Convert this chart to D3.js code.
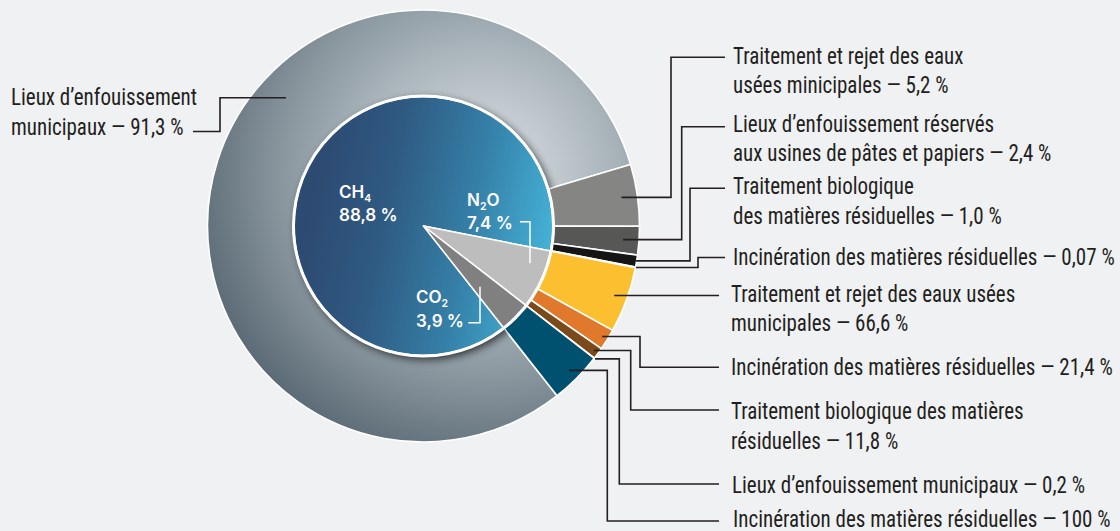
<!DOCTYPE html>
<html><head><meta charset="utf-8">
<script src="https://cdn.jsdelivr.net/npm/d3@7"></script>
<style>
html,body{margin:0;padding:0;background:#f0f1f3;}
svg{display:block;}
</style></head><body>
<svg id="chart" width="1120" height="531"></svg>
<script>
// ---------- DATA ----------
const gasKeys = ["CH4", "N2O", "CO2"];
const gasBase = ["CH", "N", "CO"];
const gasSub = ["4", "2", "2"];
const gasTail = ["", "O", ""];
const gasValues = [88.8, 7.4, 3.9];
const gasValueLabels = ["88,8 %", "7,4 %", "3,9 %"];

const sourceGas = ["CH4", "CH4", "CH4", "CH4", "CH4", "N2O", "N2O", "N2O", "N2O", "CO2"];
const sourceValues = [91.3, 5.2, 2.4, 1.0, 0.07, 66.6, 21.4, 11.8, 0.2, 100];
const sourceLabelLines = [
  ["Lieux d’enfouissement", "municipaux — 91,3 %"],
  ["Traitement et rejet des eaux", "usées minicipales — 5,2 %"],
  ["Lieux d’enfouissement réservés", "aux usines de pâtes et papiers — 2,4 %"],
  ["Traitement biologique", "des matières résiduelles — 1,0 %"],
  ["Incinération des matières résiduelles — 0,07 %"],
  ["Traitement et rejet des eaux usées", "municipales — 66,6 %"],
  ["Incinération des matières résiduelles — 21,4 %"],
  ["Traitement biologique des matières", "résiduelles — 11,8 %"],
  ["Lieux d’enfouissement municipaux — 0,2 %"],
  ["Incinération des matières résiduelles — 100 %"]
];

// ---------- STYLE / LAYOUT ----------
const W = 1120, H = 531;
const cx = 423.5, cy = 226;
const rPie = 129.5, rRingIn = 130, rRingOut = 216;
const startDeg = 141.8;
const gasFills = ["url(#blueGrad)", "#bdbdbd", "#808080"];
const sourceFills = ["url(#ringGrad)", "#858583", "#575755", "#151515", "#d8d8d8",
                     "#fbbf2f", "#e0792b", "#7b4a1b", "#5a3a1a", "#00506f"];
const leaderLayout = [
  {r: 188, angle: 313, elbow: 220, ly: 131.5, end: 193, tx: 11, ty: 105},
  {r: 200, elbow: 671, ly: 57.3, end: 725, tx: 733, ty: 63.5},
  {r: 200, elbow: 681.7, ly: 126.7, end: 725, tx: 733, ty: 131.7},
  {r: 215, elbow: 690, ly: 188.3, end: 725, tx: 733, ty: 194},
  {r: 216.5, elbow: 698, ly: 257.5, end: 725, tx: 733, ty: 264.5},
  {r: 203, elbow: null, ly: null, end: 719, tx: 731, ty: 301.5},
  {r: 210, elbow: 640, ly: 367.3, end: 719, tx: 731, ty: 375},
  {r: 211, elbow: 630.7, ly: 410, end: 719, tx: 731, ty: 419},
  {r: 217, elbow: 619.3, ly: 484, end: 719, tx: 732, ty: 492.5},
  {r: 205, elbow: 607.3, ly: 521, end: 719, tx: 733, ty: 527}
];
const lineGap = 29.7;
const gasLabelPos = [
  {x: 339, y: 197.5, bracket: null},
  {x: 467, y: 205.7, bracket: [[520, 221.7], [530, 221.7], [530, 263.3]]},
  {x: 416, y: 303.3, bracket: [[468.3, 322.7], [480, 322.7], [480, 286.7]]}
];

// ---------- BUILD ----------
const svg = d3.select("#chart");
const defs = svg.append("defs");

// gradients are in the translated (centre-origin) user space
const ring = defs.append("radialGradient").attr("id", "ringGrad")
  .attr("gradientUnits", "userSpaceOnUse").attr("cx", 60).attr("cy", -50).attr("r", 300);
[[0, "#d0d7dc"], [0.2, "#c6ced3"], [0.43, "#a9b4bb"], [0.66, "#8b98a0"], [0.88, "#6b7983"], [1, "#586873"]]
  .forEach(([o, c]) => ring.append("stop").attr("offset", o).attr("stop-color", c));

const blue = defs.append("linearGradient").attr("id", "blueGrad")
  .attr("gradientUnits", "userSpaceOnUse")
  .attr("x1", 310 - cx).attr("y1", 200 - cy).attr("x2", 555 - cx).attr("y2", 250 - cy);
[[0, "#2d4a72"], [0.3, "#2f5a82"], [0.65, "#3580a8"], [1, "#46b4d9"]]
  .forEach(([o, c]) => blue.append("stop").attr("offset", o).attr("stop-color", c));

const blur = defs.append("filter").attr("id", "shadowBlur")
  .attr("x", -0.3).attr("y", -0.3).attr("width", 1.6).attr("height", 1.6);
blur.append("feGaussianBlur").attr("stdDeviation", 4.5);

svg.append("rect").attr("width", W).attr("height", H).attr("fill", "#f0f1f3");

const gasRows = gasKeys.map((k, i) => ({gas: k, value: gasValues[i], i}));
const sourceRows = sourceGas.map((g, i) => ({gas: g, value: sourceValues[i], i}));

const a0 = startDeg * Math.PI / 180;
const gasArcs = d3.pie().sort(null).value(d => d.value)
  .startAngle(a0).endAngle(a0 + 2 * Math.PI)(gasRows);

const sourceArcs = [];
gasArcs.forEach(ga => {
  const rows = sourceRows.filter(r => r.gas === ga.data.gas);
  d3.pie().sort(null).value(d => d.value)
    .startAngle(ga.startAngle).endAngle(ga.endAngle)(rows)
    .forEach(a => sourceArcs.push(a));
});
sourceArcs.sort((a, b) => a.data.i - b.data.i);

const g = svg.append("g").attr("transform", `translate(${cx},${cy})`);
const ringArc = d3.arc().innerRadius(rRingIn).outerRadius(rRingOut);
const pieArc = d3.arc().innerRadius(0).outerRadius(rPie);

g.selectAll("path.src").data(sourceArcs).join("path")
  .attr("class", "src")
  .attr("d", ringArc)
  .attr("fill", d => sourceFills[d.data.i])
  .attr("stroke", "#ffffff").attr("stroke-width", 1.6).attr("stroke-linejoin", "round");

// shadow of inner pie on landfill slice
defs.append("clipPath").attr("id", "landClip")
  .append("path").attr("d", ringArc(sourceArcs[0]));
g.append("g").attr("clip-path", "url(#landClip)")
  .append("circle").attr("cx", 3).attr("cy", 3).attr("r", rPie + 1)
  .attr("fill", "#000").attr("opacity", 0.7).attr("filter", "url(#shadowBlur)");

const g2 = svg.append("g").attr("transform", `translate(${cx},${cy})`);
g2.selectAll("path.gas").data(gasArcs).join("path")
  .attr("class", "gas")
  .attr("d", pieArc)
  .attr("fill", d => gasFills[d.data.i])
  .attr("stroke", "#ffffff").attr("stroke-width", 1.5).attr("stroke-linejoin", "round");
g2.append("circle").attr("r", rPie + 0.5).attr("fill", "none")
  .attr("stroke", "#ffffff").attr("stroke-width", 3);

// gas labels
const gl = svg.append("g").attr("fill", "#ffffff")
  .style("font-family", "Inter, 'Open Sans', Roboto, sans-serif").style("font-weight", 600);
gasRows.forEach((d, i) => {
  const p = gasLabelPos[i];
  const t = gl.append("text").attr("x", p.x).attr("y", p.y).style("font-size", "17px");
  t.append("tspan").text(gasBase[i]);
  t.append("tspan").attr("dy", 4).style("font-size", "10.5px").text(gasSub[i]);
  if (gasTail[i]) t.append("tspan").attr("dy", -4).text(gasTail[i]);
  gl.append("text").attr("x", p.x).attr("y", p.y + 23.3).style("font-size", "17px").text(gasValueLabels[i]);
  if (p.bracket) {
    svg.append("path").attr("d", d3.line()(p.bracket)).attr("fill", "none")
      .attr("stroke", "#ffffff").attr("stroke-width", 1.5);
  }
});

// leaders
const leaders = svg.append("g").attr("fill", "none").attr("stroke", "#231f20").attr("stroke-width", 1.6);
sourceArcs.forEach((a, i) => {
  const L = leaderLayout[i];
  const ang = L.angle != null ? L.angle * Math.PI / 180 : (a.startAngle + a.endAngle) / 2;
  const p = d3.pointRadial(ang, L.r);
  const x0 = cx + p[0], y0 = cy + p[1];
  let d;
  if (L.elbow == null) d = `M${x0},${y0}H${L.end}`;
  else d = `M${x0},${y0}H${L.elbow}V${L.ly}H${L.end}`;
  leaders.append("path").attr("d", d);
});

// labels (condensed face, horizontally fitted to the reference width)
const labels = svg.append("g").attr("fill", "#231f20")
  .style("font-family", "'Roboto Condensed', Roboto, 'Liberation Sans', sans-serif")
  .style("font-size", "23px");
const texts = [];
sourceArcs.forEach((a, i) => {
  const L = leaderLayout[i];
  sourceLabelLines[i].forEach((line, j) => {
    const t = labels.append("text").attr("x", 0).attr("y", 0).text(line);
    texts.push({t, x: L.tx, y: L.ty + j * lineGap});
  });
});
const refText = texts.find(o => o.t.text().includes("0,07")).t;
const k = 382 / refText.node().getComputedTextLength();
texts.forEach(o => o.t.attr("transform", `translate(${o.x},${o.y}) scale(${k},1)`));
</script>
</body></html>
